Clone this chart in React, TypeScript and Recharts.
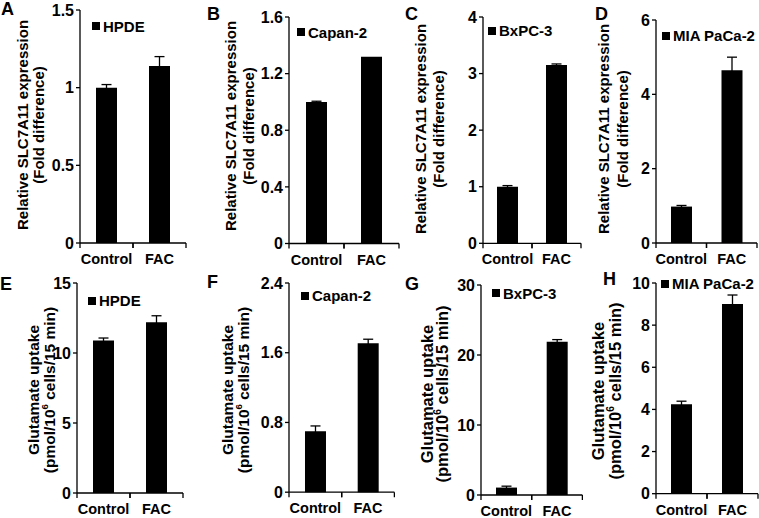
import React from 'react';
import { BarChart, Bar, XAxis, YAxis, ErrorBar, Legend } from 'recharts';

const categories = ['Control', 'FAC'];

// relative SLC7A11 expression (fold difference)
const hpdeExpr = [1.0, 1.14];
const hpdeExprErr = [0.02, 0.06];
const capanExpr = [1.0, 1.32];
const capanExprErr = [0.005, 0];
const bxpcExpr = [1.0, 3.15];
const bxpcExprErr = [0.02, 0.02];
const miaExpr = [0.98, 4.65];
const miaExprErr = [0.03, 0.35];

// glutamate uptake (pmol/10^6 cells/15 min)
const hpdeGlu = [10.9, 12.2];
const hpdeGluErr = [0.17, 0.46];
const capanGlu = [0.7, 1.71];
const capanGluErr = [0.06, 0.045];
const bxpcGlu = [1.06, 21.9];
const bxpcGluErr = [0.2, 0.3];
const miaGlu = [4.24, 9.0];
const miaGluErr = [0.15, 0.43];

const ticksA = [0, 0.5, 1, 1.5];
const ticksB = [0, 0.4, 0.8, 1.2, 1.6];
const ticksC = [0, 1, 2, 3, 4];
const ticksD = [0, 2, 4, 6];
const ticksE = [0, 5, 10, 15];
const ticksF = [0, 0.8, 1.6, 2.4];
const ticksG = [0, 10, 20, 30];
const ticksH = [0, 2, 4, 6, 8, 10];

const FONT = 'Arial, "Liberation Sans", Helvetica, sans-serif';
const YW = 72;
const MT = 10;
const XH = 26;
const MR = 1;

type Panel = {
  letter: string;
  cell: string;
  values: number[];
  errors: number[];
  ticks: number[];
  glu: boolean;
  // layout
  axisX: number;
  top: number;
  zero: number;
  catW: number;
  legX: number;
  legY: number;
  letterX: number;
  letterY: number;
  titleX: [number, number];
  titleY: number;
  titleSize: number;
};

const panels: Panel[] = [
  { letter: 'A', cell: 'HPDE', values: hpdeExpr, errors: hpdeExprErr, ticks: ticksA, glu: false,
    axisX: 80, top: 10, zero: 243, catW: 53, legX: 92, legY: 26, letterX: 1, letterY: 15, titleX: [22, 38], titleY: 125, titleSize: 15 },
  { letter: 'B', cell: 'Capan-2', values: capanExpr, errors: capanExprErr, ticks: ticksB, glu: false,
    axisX: 289, top: 16.5, zero: 243, catW: 55, legX: 297, legY: 32, letterX: 207, letterY: 20, titleX: [230, 248], titleY: 126, titleSize: 15 },
  { letter: 'C', cell: 'BxPC-3', values: bxpcExpr, errors: bxpcExprErr, ticks: ticksC, glu: false,
    axisX: 483, top: 16.7, zero: 243, catW: 49, legX: 488, legY: 31, letterX: 405, letterY: 20, titleX: [420, 438], titleY: 129, titleSize: 15 },
  { letter: 'D', cell: 'MIA PaCa-2', values: miaExpr, errors: miaExprErr, ticks: ticksD, glu: false,
    axisX: 656, top: 20, zero: 243, catW: 50.5, legX: 662, legY: 35.5, letterX: 595, letterY: 20, titleX: [603, 622], titleY: 129, titleSize: 15 },
  { letter: 'E', cell: 'HPDE', values: hpdeGlu, errors: hpdeGluErr, ticks: ticksE, glu: true,
    axisX: 77, top: 282.5, zero: 492.5, catW: 53, legX: 88, legY: 300.5, letterX: 0, letterY: 290, titleX: [33, 49], titleY: 390, titleSize: 15.5 },
  { letter: 'F', cell: 'Capan-2', values: capanGlu, errors: capanGluErr, ticks: ticksF, glu: true,
    axisX: 289, top: 283.3, zero: 492.5, catW: 52.7, legX: 301, legY: 296, letterX: 207, letterY: 288, titleX: [227, 243], titleY: 390, titleSize: 15.5 },
  { letter: 'G', cell: 'BxPC-3', values: bxpcGlu, errors: bxpcGluErr, ticks: ticksG, glu: true,
    axisX: 481, top: 284.7, zero: 494.7, catW: 50.7, legX: 492, legY: 293.5, letterX: 405, letterY: 290, titleX: [427, 442], titleY: 394, titleSize: 16.5 },
  { letter: 'H', cell: 'MIA PaCa-2', values: miaGlu, errors: miaGluErr, ticks: ticksH, glu: true,
    axisX: 656, top: 283.3, zero: 494, catW: 51, legX: 661, legY: 284, letterX: 603, letterY: 285, titleX: [598, 615], titleY: 391, titleSize: 16.5 },
];

const XTick = (props: any) => {
  const { x, y, payload, half } = props;
  const off = payload && payload.offset ? payload.offset : half;
  return (
    <g>
      <line x1={x - off} x2={x - off} y1={y} y2={y + 5} stroke="#000" strokeWidth={1.3} />
      <line x1={x + off} x2={x + off} y1={y} y2={y + 5} stroke="#000" strokeWidth={1.3} />
      <text x={x} y={y + 16} textAnchor="middle" dominantBaseline="central"
        fontFamily={FONT} fontWeight="bold" fontSize={14.5} fill="#000">
        {payload.value}
      </text>
    </g>
  );
};

const PanelChart = ({ p }: { p: Panel }) => {
  const data = categories.map((name, i) => ({ name, value: p.values[i], err: p.errors[i] }));
  const plotH = p.zero - p.top;
  const width = YW + 2 * p.catW + MR;
  const height = MT + plotH + XH;
  const left = p.axisX - YW;
  const chartTop = p.top - MT;
  const max = p.ticks[p.ticks.length - 1];

  return (
    <div style={{ position: 'absolute', left, top: chartTop, width, height }}>
      <BarChart width={width} height={height} data={data}
        margin={{ top: MT, right: MR, bottom: 0, left: 0 }} barSize={21}>
        <XAxis dataKey="name" height={XH} tickSize={0} tickMargin={0} tickLine={false}
          axisLine={{ stroke: '#000', strokeWidth: 1.3 }} interval={0}
          tick={<XTick half={p.catW / 2} />} />
        <YAxis type="number" domain={[0, max]} ticks={p.ticks} interval={0} width={YW}
          tickSize={4} tickMargin={2}
          axisLine={{ stroke: '#000', strokeWidth: 1.3 }}
          tickLine={{ stroke: '#000', strokeWidth: 1.3 }}
          tick={{ fill: '#000', fontSize: 16, fontWeight: 'bold', fontFamily: FONT }}
          tickFormatter={(v: number) => String(v)} />
        <Legend layout="vertical" align="center" verticalAlign="middle"
          wrapperStyle={{ left: p.legX - left, top: p.legY - chartTop - 9, width: 'auto', height: 18 }}
          content={(lp: any) => (
            <div style={{ display: 'flex', alignItems: 'center', fontFamily: FONT, fontWeight: 'bold',
              fontSize: 15, color: '#000', whiteSpace: 'nowrap', height: 18 }}>
              <span style={{ display: 'inline-block', width: 8, height: 8, background: '#000', marginRight: 3 }} />
              {lp.payload && lp.payload[0] ? lp.payload[0].value : p.cell}
            </div>
          )} />
        <Bar dataKey="value" name={p.cell} fill="#000" isAnimationActive={false}>
          <ErrorBar dataKey="err" direction="y" width={5} stroke="#000" strokeWidth={1.3} />
        </Bar>
      </BarChart>
    </div>
  );
};

const Titles = () => (
  <svg width={759} height={518} style={{ position: 'absolute', left: 0, top: 0, pointerEvents: 'none' }}>
    {panels.map((p) => (
      <g key={p.letter} fontFamily={FONT} fontWeight="bold" fill="#000">
        <text x={p.letterX} y={p.letterY} fontSize={18}>{p.letter}</text>
        {p.glu ? (
          <>
            <text transform={`translate(${p.titleX[0]},${p.titleY}) rotate(-90)`} textAnchor="middle"
              dominantBaseline="central" fontSize={p.titleSize}>Glutamate uptake</text>
            <text transform={`translate(${p.titleX[1]},${p.titleY}) rotate(-90)`} textAnchor="middle"
              dominantBaseline="central" fontSize={p.titleSize}>
              <tspan>(pmol/10</tspan>
              <tspan dy={-5} fontSize={p.titleSize * 0.62}>6</tspan>
              <tspan dy={5}> cells/15 min)</tspan>
            </text>
          </>
        ) : (
          <>
            <text transform={`translate(${p.titleX[0]},${p.titleY}) rotate(-90)`} textAnchor="middle"
              dominantBaseline="central" fontSize={p.titleSize}>Relative SLC7A11 expression</text>
            <text transform={`translate(${p.titleX[1]},${p.titleY}) rotate(-90)`} textAnchor="middle"
              dominantBaseline="central" fontSize={p.titleSize}>(Fold difference)</text>
          </>
        )}
      </g>
    ))}
  </svg>
);

export default function App() {
  return (
    <div style={{ position: 'absolute', left: 0, top: 0, width: 759, height: 518, overflow: 'hidden', background: '#fff' }}>
      {panels.map((p) => (
        <PanelChart key={p.letter} p={p} />
      ))}
      <Titles />
    </div>
  );
}
